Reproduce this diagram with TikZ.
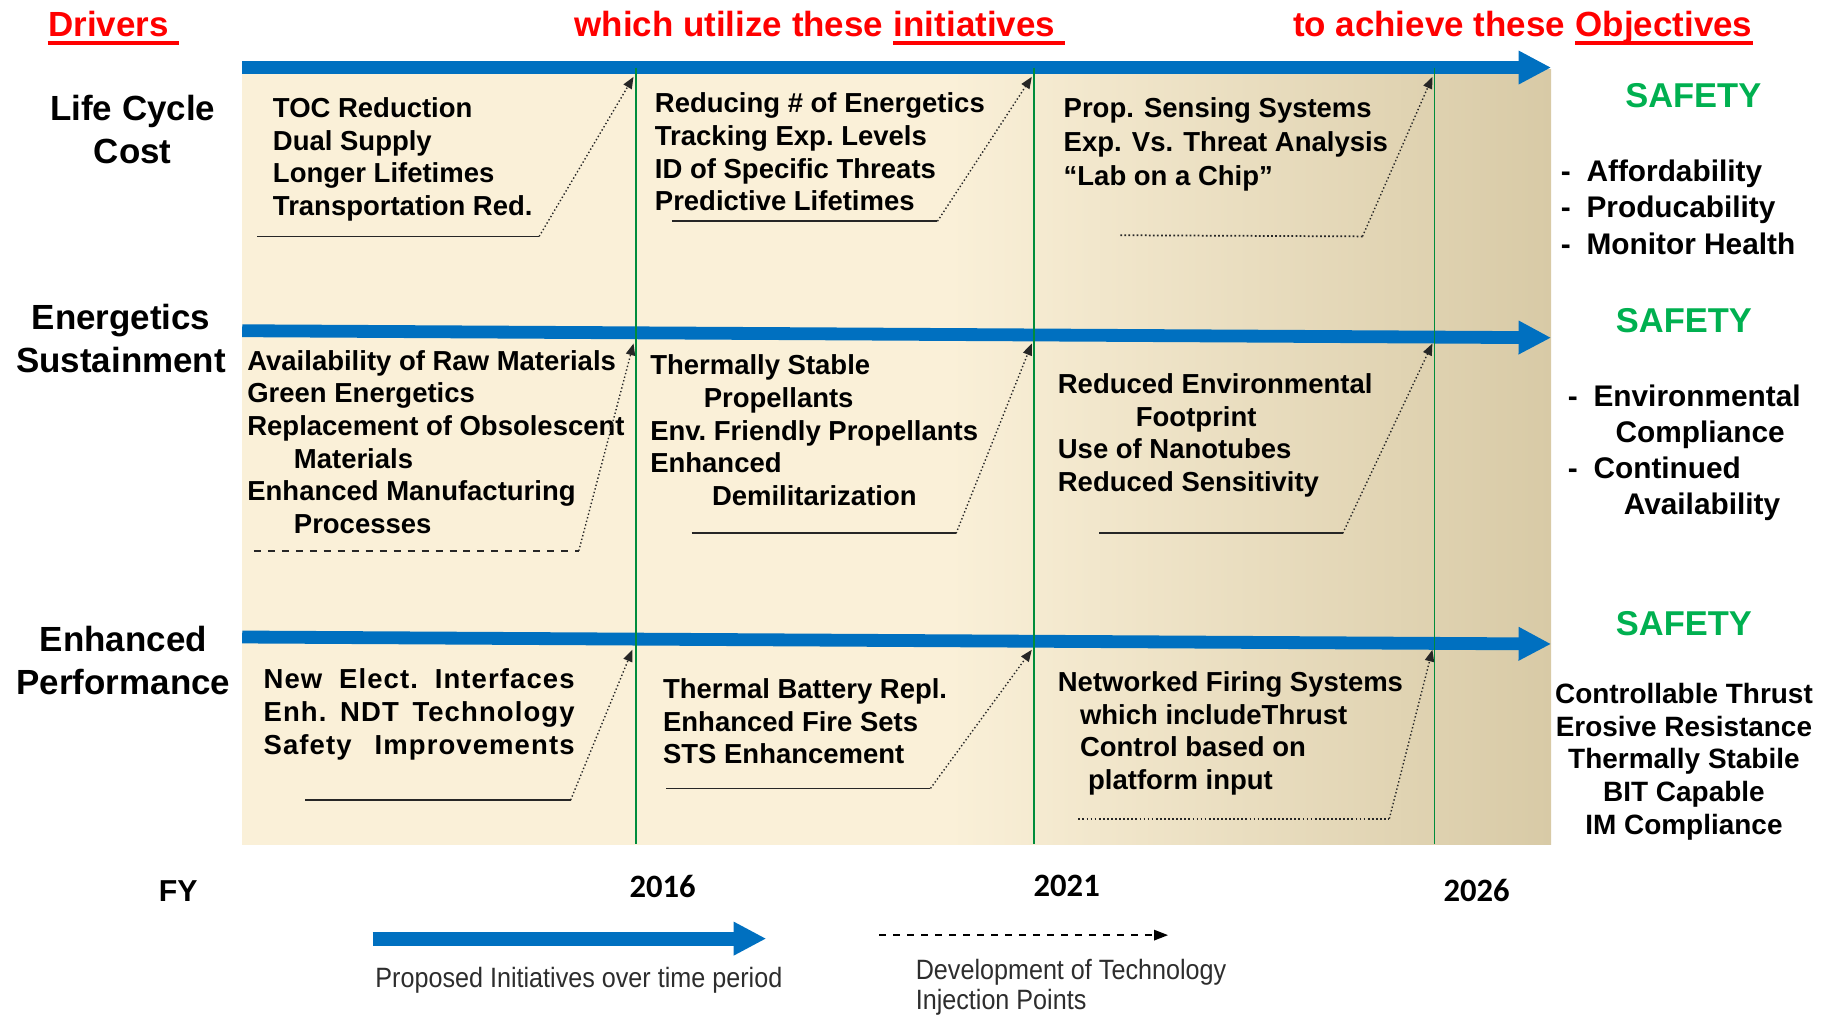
\documentclass[tikz,border=0pt]{standalone}
\usepackage{fontspec}
\usepackage{tikz}
\usetikzlibrary{arrows.meta}

\setmainfont{Liberation Sans}
\newfontfamily\yearfont{Carlito}
\newfontfamily\narrowfont[FakeStretch=0.9]{Liberation Sans}
\newfontfamily\spacedfont[LetterSpace=4]{Liberation Sans}

\definecolor{headred}{RGB}{255,0,0}
\definecolor{initblue}{RGB}{0,112,192}
\definecolor{gridgreen}{RGB}{0,140,60}
\definecolor{safegreen}{RGB}{0,176,80}
\definecolor{panellight}{RGB}{250,240,216}
\definecolor{paneldark}{RGB}{216,202,166}
\definecolor{legendgray}{RGB}{45,45,45}

\pgfdeclarehorizontalshading{panelshade}{100bp}{color(0bp)=(panellight); color(25bp)=(panellight); color(52bp)=(panellight); color(75bp)=(paneldark); color(100bp)=(paneldark)}

\begin{document}
\begin{tikzpicture}[x=0.5pt, y=-0.5pt,
		body_style/.style={anchor=north west, align=left, inner sep=0pt, font=\fontsize{11.8}{14}\selectfont\bfseries\frenchspacing},
		driver_style/.style={anchor=north, align=center, inner sep=0pt, font=\fontsize{15}{18.5}\selectfont\bfseries},
		head_style/.style={anchor=base west, inner sep=0pt, text=headred, font=\fontsize{15}{18}\selectfont\bfseries},
		head_rule/.style={draw=headred, line width=1.4pt},
		safety_style/.style={anchor=base, inner sep=0pt, text=safegreen, font=\fontsize{14.8}{18}\selectfont\bfseries},
		goal_style/.style={anchor=north west, align=left, inner sep=0pt, font=\fontsize{12.8}{15.6}\selectfont\bfseries},
		year_style/.style={inner sep=0pt, font=\yearfont\fontsize{14}{16}\selectfont\bfseries},
		legend_style/.style={anchor=north west, align=left, inner sep=0pt, text=legendgray, font=\narrowfont\fontsize{12}{13}\selectfont},
		time_arrow/.style={draw=initblue, line width=5.5pt, -{Triangle[length=14pt,width=13.5pt]}},
		grid_line/.style={draw=gridgreen, line width=0.6pt},
		rule_style/.style={draw=black!85, line width=0.75pt},
		inject_style/.style={draw=black!85, line width=0.6pt, densely dotted, -{Triangle[length=5pt,width=4pt]}}]

	\useasboundingbox (0,0) rectangle (1568,872);

	% panel and time lines
	\shade[shading=panelshade] (208,60) rectangle (1332,725);
	\draw[time_arrow] (208,58) -- (1332,58);
	\draw[time_arrow] (208,284) -- (1332,290);
	\draw[time_arrow] (208,547) -- (1332,553);
	\foreach \gx in {546,888,1232}
		\draw[grid_line] (\gx,58) -- (\gx,725);

	% headings
	\node[head_style] (drv) at (41,31) {Drivers\ \null};
	\node[head_style] (ini0) at (493,31) {which utilize these\ \null};
	\node[head_style] (ini) at (ini0.base east) {initiatives\ \null};
	\node[head_style] (obj0) at (1110,31) {to achieve these\ \null};
	\node[head_style] (obj) at (obj0.base east) {Objectives};
	\draw[head_rule] ([yshift=-3pt]drv.base west) -- ([yshift=-3pt]drv.base east);
	\draw[head_rule] ([yshift=-3pt]ini.base west) -- ([yshift=-3pt]ini.base east);
	\draw[head_rule] ([yshift=-3pt]obj.base west) -- ([yshift=-3pt]obj.base east);

	\node[driver_style] (lcc) at (114,81) {Life Cycle\\Cost};
	\node[driver_style] (ens) at (104,261) {Energetics\\Sustainment};
	\node[driver_style] (enp) at (106,537) {Enhanced\\Performance};

	% initiatives
	\node[body_style] (r1c1) at (234,83.5) {TOC Reduction\\Dual Supply\\Longer Lifetimes\\Transportation Red.};
	\node[body_style] (r1c2) at (562,79.5) {Reducing \# of Energetics\\Tracking Exp. Levels\\ID of Specific Threats\\Predictive Lifetimes};
	\node[body_style, font=\fontsize{11.8}{14.5}\selectfont\bfseries] (r1c3) at (913,83.5) {Prop. Sensing Systems\\Exp. Vs. Threat Analysis\\``Lab on a Chip''};

	\node[body_style] (r2c1) at (212,300.5) {Availability of Raw Materials\\Green Energetics\\Replacement of Obsolescent\\\hspace*{20pt}Materials\\Enhanced Manufacturing\\\hspace*{20pt}Processes};
	\node[body_style] (r2c2) at (558,304.5) {Thermally Stable\\\hspace*{23pt}Propellants\\Env. Friendly Propellants\\Enhanced\\\hspace*{26.5pt}Demilitarization};
	\node[body_style] (r2c3) at (908,320.5) {Reduced Environmental\\\hspace*{33.5pt}Footprint\\Use of Nanotubes\\Reduced Sensitivity};

	\node[body_style, font=\spacedfont\fontsize{11.8}{14.2}\selectfont\bfseries\frenchspacing] (r3c1) at (226,573.5) {\makebox[133.5pt][s]{New Elect. Interfaces}\\\makebox[133.5pt][s]{Enh. NDT Technology}\\\makebox[133.5pt][s]{Safety Improvements}};
	\node[body_style] (r3c2) at (569,582.5) {Thermal Battery Repl.\\Enhanced Fire Sets\\STS Enhancement};
	\node[body_style] (r3c3) at (908,576.5) {Networked Firing Systems\\\hspace*{9.5pt}which includeThrust\\\hspace*{9.5pt}Control based on\\\hspace*{13pt}platform input};

	% injection points
	\coordinate (a11) at (221,203); \coordinate (b11) at (463,203); \coordinate (t11) at (544,66);
	\coordinate (a12) at (577,190); \coordinate (b12) at (805,190); \coordinate (t12) at (886,66);
	\coordinate (a13) at (962,202); \coordinate (b13) at (1170,203); \coordinate (t13) at (1230,66);
	\coordinate (a21) at (218,473); \coordinate (b21) at (497,473); \coordinate (t21) at (544,295);
	\coordinate (a22) at (594,458); \coordinate (b22) at (821,458); \coordinate (t22) at (886,295);
	\coordinate (a23) at (944,458); \coordinate (b23) at (1153,458); \coordinate (t23) at (1230,295);
	\coordinate (a31) at (262,687); \coordinate (b31) at (490,687); \coordinate (t31) at (543,558);
	\coordinate (a32) at (572,677); \coordinate (b32) at (799,677); \coordinate (t32) at (886,558);
	\coordinate (a33) at (926,703); \coordinate (b33) at (1193,703); \coordinate (t33) at (1230,558);

	\draw[rule_style] (a11) -- (b11);
	\draw[rule_style] (a12) -- (b12);
	\draw[rule_style, densely dotted] (a13) -- (b13);
	\draw[rule_style, dashed] (a21) -- (b21);
	\draw[rule_style] (a22) -- (b22);
	\draw[rule_style] (a23) -- (b23);
	\draw[rule_style] (a31) -- (b31);
	\draw[rule_style] (a32) -- (b32);
	\draw[rule_style, densely dotted] (a33) -- (b33);

	\draw[inject_style] (b11) -- (t11);
	\draw[inject_style] (b12) -- (t12);
	\draw[inject_style] (b13) -- (t13);
	\draw[inject_style] (b21) -- (t21);
	\draw[inject_style] (b22) -- (t22);
	\draw[inject_style] (b23) -- (t23);
	\draw[inject_style] (b31) -- (t31);
	\draw[inject_style] (b32) -- (t32);
	\draw[inject_style] (b33) -- (t33);

	% objectives
	\node[safety_style] (saf1) at (1454,92.6) {SAFETY};
	\node[safety_style] (saf2) at (1446,285.6) {SAFETY};
	\node[safety_style] (saf3) at (1446,545.6) {SAFETY};

	\node[goal_style] (goal1) at (1340,137) {\makebox[11pt][l]{-}Affordability\\\makebox[11pt][l]{-}Producability\\\makebox[11pt][l]{-}Monitor Health};
	\node[goal_style, font=\fontsize{12.8}{15.5}\selectfont\bfseries] (goal2) at (1346,330) {\makebox[11pt][l]{-}Environmental\\\hspace*{20.5pt}Compliance\\\makebox[11pt][l]{-}Continued\\\hspace*{24pt}Availability};
	\node[goal_style, anchor=north, align=center, font=\fontsize{12}{14}\selectfont\bfseries] (goal3) at (1446,586.4) {Controllable Thrust\\Erosive Resistance\\Thermally Stabile\\BIT Capable\\IM Compliance};

	% fiscal years
	\node[inner sep=0pt, font=\fontsize{13}{15}\selectfont\bfseries] (fy) at (153,765) {FY};
	\node[year_style] (y16) at (569,761) {2016};
	\node[year_style] (y21) at (916,761) {2021};
	\node[year_style] (y26) at (1268,765) {2026};

	% legend
	\coordinate (la) at (320,806); \coordinate (lb) at (658,806);
	\draw[time_arrow, line width=6pt] (la) -- (lb);
	\node[legend_style] (lgd1) at (322,830.4) {Proposed Initiatives over time period};
	\coordinate (da) at (755,803); \coordinate (db) at (1003,803);
	\draw[draw=black, line width=0.6pt, dashed, -{Triangle[length=6pt,width=4.5pt]}] (da) -- (db);
	\node[legend_style] (lgd2) at (786,823.4) {Development of Technology\\Injection Points};

\end{tikzpicture}
\end{document}
